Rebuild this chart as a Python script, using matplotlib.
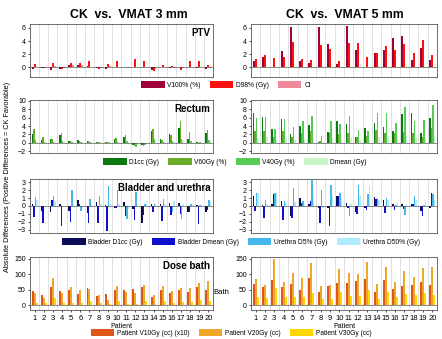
import numpy as np
import matplotlib
matplotlib.use("Agg")
import matplotlib.pyplot as plt
from matplotlib.patches import Patch

plt.rcParams['font.family'] = ['Liberation Sans', 'DejaVu Sans']

patients = np.arange(1, 21)

# PTV
ptv3_v100 = [-0.3, -0.1, -0.4, -0.3, 0.4, 0.4, 0.2, -0.2, -0.3, 0.1, 0.0, 0.1, 0.1, -0.5, 0.1, -0.2, 0.0, 0.1, -0.2, -0.3]
ptv3_d98 = [0.5, -0.1, 0.6, -0.3, 0.7, 0.6, 1.0, -0.3, 0.5, 1.0, 0.1, 1.2, 0.9, -0.6, 0.3, 0.2, -0.4, 1.0, 0.9, 0.3]
ptv3_ci = [0.1, 0.0, 0.2, -0.1, 0.3, 0.3, 0.1, -0.2, 0.2, 0.1, -0.2, 0.1, 0.1, -0.3, 0.1, -0.1, -0.1, 0.1, 0.1, -0.1]
ptv5_v100 = [0.9, 1.6, 0.0, 2.5, 6.2, 0.9, 0.6, 6.2, 3.6, 0.5, 6.3, 2.6, 0.0, 2.2, 2.6, 4.4, 4.8, 1.1, 3.0, 1.1]
ptv5_d98 = [1.2, 1.8, 1.4, 1.5, 3.8, 1.3, 1.1, 3.4, 2.8, 1.0, 3.7, 3.7, 1.5, 2.1, 3.2, 2.6, 3.5, 2.2, 4.2, 1.8]
ptv5_ci = [0.0] * 20

# Rectum
rec3_d1cc = [2.0, 0.7, 1.0, 1.8, 0.5, 0.6, 0.5, 0.3, 0.1, 1.0, 1.5, -0.5, -0.5, 2.9, 1.0, 2.1, 3.5, 1.0, 0.2, 2.4]
rec3_v60 = [3.3, 1.5, 0.9, 2.4, 0.4, 0.5, 0.5, 0.2, 0.3, 1.1, 1.8, -0.8, -0.7, 3.3, 0.6, 1.8, 5.1, 2.5, -0.2, 3.0]
rec3_v40 = [0.6, 0.3, 0.3, 0.5, 0.3, 0.2, 0.3, 0.1, 0.1, 0.3, 0.4, -0.9, -0.4, 1.0, 0.3, 0.5, 1.0, 0.5, 0.1, 0.8]
rec3_dmean = [0.3, 0.2, 0.2, 0.3, 0.2, 0.1, 0.2, 0.1, 0.1, 0.2, 0.3, -0.4, -0.3, 0.5, 0.2, 0.3, 0.6, 0.3, 0.1, 0.4]
rec5_d1cc = [7.2, 6.1, 3.3, 5.7, 2.0, 4.0, 4.2, 0.3, 2.5, 5.2, 4.5, 1.4, 3.6, 4.7, 3.9, 2.9, 6.8, 7.1, 2.3, 5.9]
rec5_v60 = [2.8, 2.9, 1.5, 2.8, 1.5, 2.4, 2.9, 0.5, 2.3, 2.0, 2.4, 1.3, 1.6, 3.1, 2.4, 2.3, 2.7, 2.4, 1.5, 3.5]
rec5_v40 = [5.9, 6.2, 3.3, 5.6, 3.7, 5.3, 6.4, 1.7, 5.2, 4.4, 6.3, 3.0, 2.9, 7.1, 7.2, 4.8, 8.5, 5.3, 5.5, 9.0]
rec5_dmean = [1.2, 1.3, 0.8, 1.1, 0.7, 1.0, 1.2, 0.3, 1.0, 0.9, 1.2, 0.6, 0.7, 1.4, 1.3, 1.0, 1.6, 1.1, 1.0, 1.7]

# Bladder and urethra
bl3_d1cc = [0.2, -0.6, -0.8, 0.3, -0.6, 0.8, -0.9, 0.5, 0.1, -0.3, 0.5, -0.4, -2.1, 0.3, 0.2, 0.4, 0.4, -0.8, 0.1, -0.8]
bl3_dmean = [-1.4, -2.1, 0.8, -2.5, -2.0, 0.2, -2.1, -2.2, -3.1, -0.2, -1.3, -1.7, -1.1, -0.8, -1.9, -1.1, -1.0, -0.8, -2.3, -0.5]
ur3_d5 = [1.1, 0.0, 1.2, 0.0, 2.0, -0.6, 0.9, 1.2, 2.5, 2.0, -1.6, 1.8, 0.3, 0.3, 0.9, -0.8, -1.6, 0.2, 0.1, 0.8]
ur3_d50 = [0.7, 0.0, 0.6, 0.0, 0.3, -0.3, 0.5, 0.3, 0.2, 0.3, -0.4, 0.2, 0.6, 0.2, 0.3, 0.6, 0.2, 0.1, 0.3, 0.5]
bl5_d1cc = [1.3, 0.1, 0.3, 0.6, -1.2, 1.0, 0.2, -0.2, -0.3, 1.3, 0.4, -0.8, -0.3, 1.1, 0.7, 0.2, 0.3, 0.3, -0.6, -0.2]
bl5_dmean = [-0.6, -1.5, 1.5, -1.8, -1.5, 0.4, 0.6, -2.1, -2.5, 1.2, -0.3, -1.0, -0.5, 0.9, -0.9, -0.5, -0.4, 0.2, -1.3, 1.7]
ur5_d5 = [1.6, 0.8, 1.7, 0.6, 2.3, 0.6, 3.3, 2.0, 2.7, 1.6, -1.2, 2.7, 1.5, 1.0, 1.0, 0.1, -1.1, 1.3, 0.1, 1.5]
ur5_d50 = [1.6, 0.3, 1.6, 0.4, 0.5, 0.3, 1.6, -0.3, 1.2, 1.0, 0.3, 1.3, 2.5, 0.7, 0.7, 0.4, 0.3, 0.8, 0.7, 0.8]

# Dose bath
db3_v10 = [46, 34, 57, 44, 48, 35, 55, 29, 36, 48, 47, 52, 57, 26, 50, 40, 48, 43, 58, 48]
db3_v20 = [38, 24, 88, 40, 57, 47, 52, 31, 15, 60, 43, 39, 66, 31, 60, 44, 54, 56, 70, 76]
db3_v30 = [5, 5, 22, 5, 5, 5, 12, 5, 3, 12, 4, 4, 12, 3, 14, 5, 10, 10, 15, 12]
db5_v10 = [68, 57, 82, 59, 68, 50, 87, 41, 62, 70, 72, 77, 84, 42, 82, 52, 63, 64, 75, 64]
db5_v20 = [85, 64, 150, 74, 103, 86, 136, 60, 66, 116, 102, 101, 140, 67, 122, 74, 111, 91, 120, 123]
db5_v30 = [25, 23, 55, 25, 25, 26, 40, 20, 20, 42, 30, 30, 50, 20, 43, 25, 36, 32, 40, 32]

rows = [
    dict(name="PTV", ylim=(-1.5, 6.6), ticks=[0, 2, 4, 6],
         labels=["V100% (%)", "D98% (Gy)", "CI"],
         colors=["#a0003a", "#ff1010", "#f08a9a"],
         left=[ptv3_v100, ptv3_d98, ptv3_ci], right=[ptv5_v100, ptv5_d98, ptv5_ci]),
    dict(name="Rectum", ylim=(-2.4, 10.2), ticks=[-2, 0, 2, 4, 6, 8, 10],
         labels=["D1cc (Gy)", "V60Gy (%)", "V40Gy (%)", "Dmean (Gy)"],
         colors=["#0a7a10", "#6aac2a", "#55cc55", "#c8f5c8"],
         left=[rec3_d1cc, rec3_v60, rec3_v40, rec3_dmean],
         right=[rec5_d1cc, rec5_v60, rec5_v40, rec5_dmean]),
    dict(name="Bladder and urethra", ylim=(-3.4, 3.4), ticks=[-3, -2, -1, 0, 1, 2, 3],
         labels=["Bladder D1cc (Gy)", "Bladder Dmean (Gy)", "Urethra D5% (Gy)", "Urethra D50% (Gy)"],
         colors=["#0a0a55", "#1010cc", "#44b8ee", "#b0ecff"],
         left=[bl3_d1cc, bl3_dmean, ur3_d5, ur3_d50],
         right=[bl5_d1cc, bl5_dmean, ur5_d5, ur5_d50]),
    dict(name="Dose bath", ylim=(-16, 155), ticks=[0, 50, 100, 150],
         labels=["Patient V10Gy (cc) (x10)", "Patient V20Gy (cc)", "Patient V30Gy (cc)"],
         colors=["#e0561a", "#f0a628", "#ffd800"],
         left=[db3_v10, db3_v20, db3_v30], right=[db5_v10, db5_v20, db5_v30]),
]

# axes boxes in pixels (top, bottom), legend y and legend centre x
row_px = [(24, 77, 85, 226), (100, 153, 162, 235), (179, 233, 242, 241), (257, 310, 333, 231)]
col_px = [(30, 213), (251, 437)]
W, H = 442, 339

fig = plt.figure(figsize=(W / 100, H / 100), dpi=100)

for r, row in enumerate(rows):
    top, bot, legy, legx = row_px[r]
    n = len(row["labels"])
    width = 0.64 / n
    for c, (x0, x1) in enumerate(col_px):
        ax = fig.add_axes([x0 / W, 1 - bot / H, (x1 - x0) / W, (bot - top) / H])
        series = row["left"] if c == 0 else row["right"]
        for k, vals in enumerate(series):
            off = (k - (n - 1) / 2) * width
            ax.bar(patients + off, vals, width=width, color=row["colors"][k], linewidth=0)
        ax.axhline(0, color="#333333", lw=0.4)
        ax.set_xlim(0.5, 20.5)
        ax.set_ylim(*row["ylim"])
        ax.set_yticks(row["ticks"])
        for xv in np.arange(1.5, 20.5, 1):
            ax.axvline(xv, color="#dcdcdc", lw=0.6, zorder=0)
        ax.tick_params(axis="y", labelsize=5, length=1.5, width=0.5, pad=1.5)
        for s in ax.spines.values():
            s.set_linewidth(0.6)
            s.set_color("#555555")
        if r == 3:
            ax.set_xticks(patients)
            ax.tick_params(axis="x", labelsize=5.5, length=1.5, width=0.5, pad=2)
            ax.set_xlabel("Patient", fontsize=5, labelpad=1)
        else:
            ax.set_xticks([])
        if c == 0:
            ax.text(0.985, 0.93, row["name"], transform=ax.transAxes, ha="right", va="top",
                    fontsize=7, fontweight="bold")
    handles = [Patch(facecolor=col, edgecolor="none") for col in row["colors"]]
    fig.legend(handles, row["labels"], loc="center", bbox_to_anchor=(legx / W, 1 - legy / H),
               ncol=n, frameon=False, fontsize=4.8, handlelength=3.5, handleheight=1.2,
               columnspacing=1.4, handletextpad=0.4, borderpad=0)

fig.text(129 / W, 1 - 15 / H, "CK  vs.  VMAT 3 mm", ha="center", va="center", fontsize=8.8, fontweight="bold")
fig.text(345 / W, 1 - 15 / H, "CK  vs.  VMAT 5 mm", ha="center", va="center", fontsize=8.8, fontweight="bold")
fig.text(8 / W, 1 - 177 / H, "Absolute Differences (Positive Differences = CK Favorable)",
         rotation=90, ha="center", va="center", fontsize=5.2)
fig.text(221 / W, 1 - 293 / H, "Bath", ha="center", va="center", fontsize=5.5)

fig.savefig("out.png", dpi=100)
